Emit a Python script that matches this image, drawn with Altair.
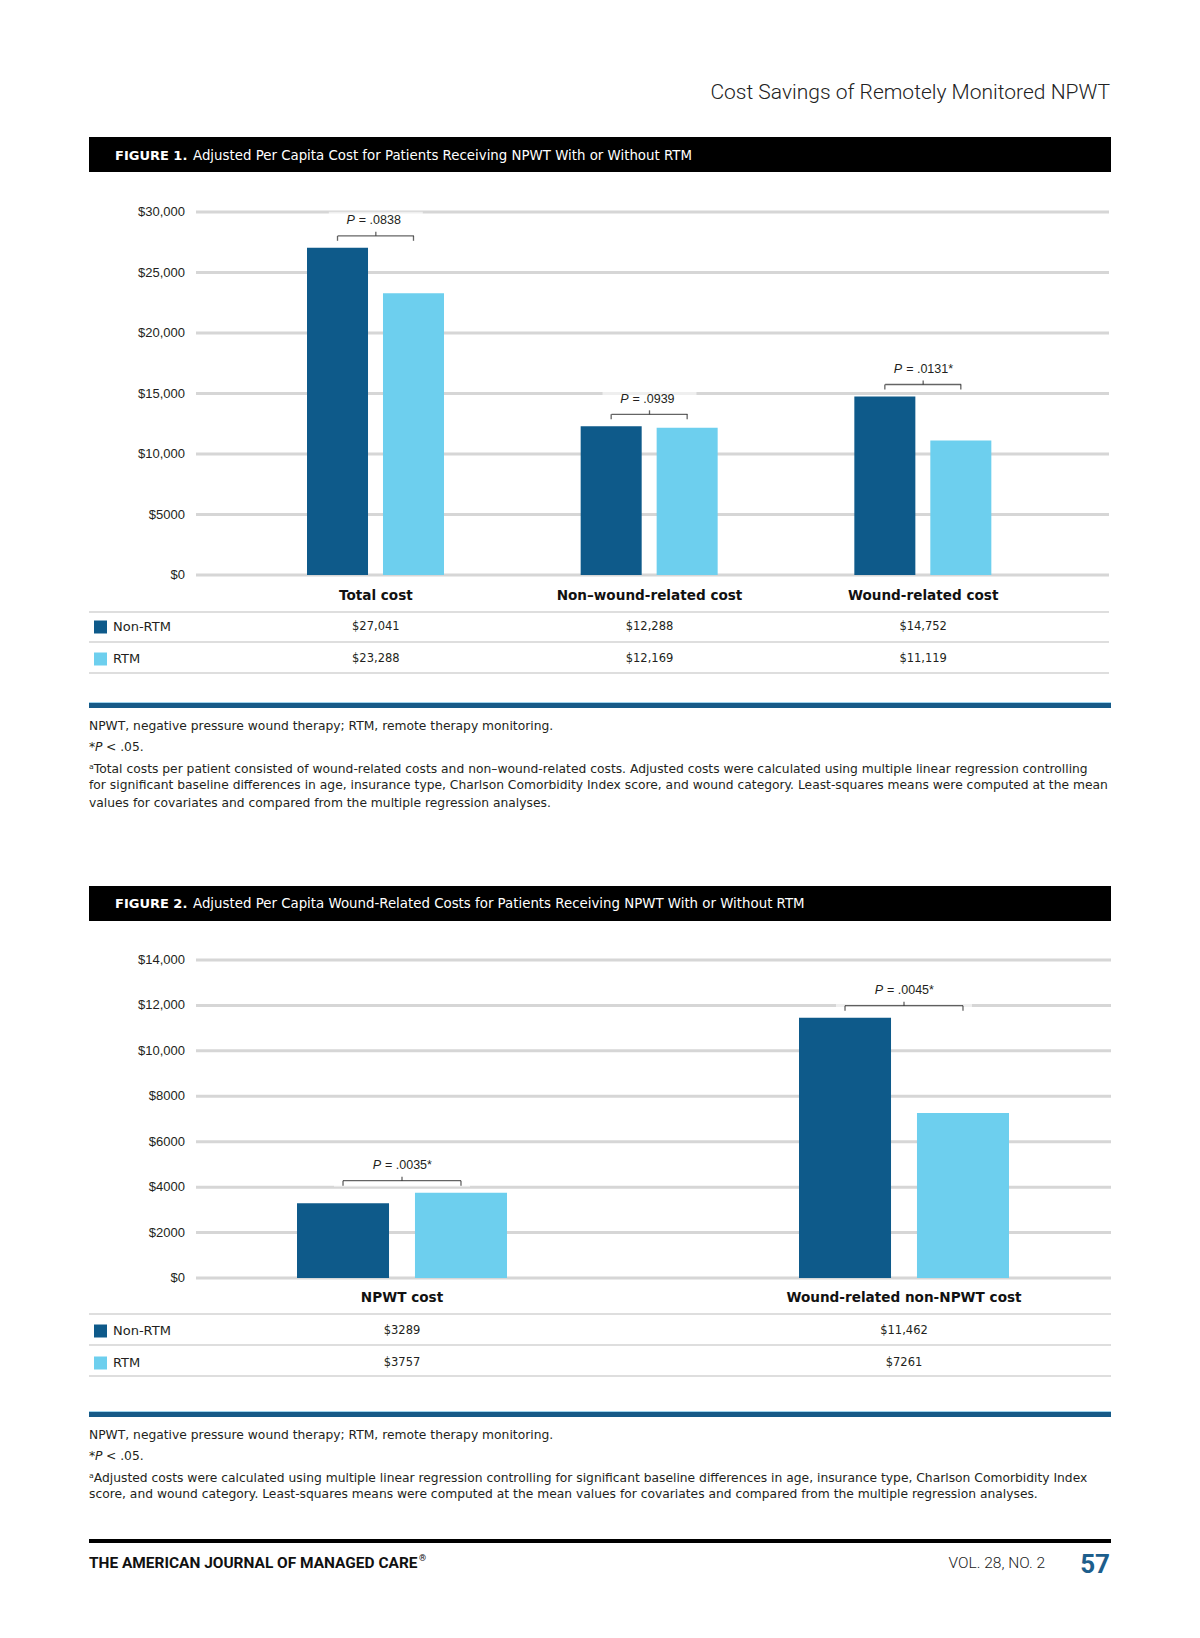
import altair as alt
import pandas as pd

# ---------------- data ----------------
groups = ["Non-RTM", "RTM"]
group_colors = ["#0E5A8A", "#6DCFEE"]

fig1_categories = ["Total cost", "Non\u2013wound-related cost", "Wound-related cost"]
fig1_non_rtm = [27041, 12288, 14752]
fig1_rtm = [23288, 12169, 11119]
fig1_p = [".0838", ".0939", ".0131*"]
fig1_ticks = [0, 5000, 10000, 15000, 20000, 25000, 30000]

fig2_categories = ["NPWT cost", "Wound-related non-NPWT cost"]
fig2_non_rtm = [3289, 11462]
fig2_rtm = [3757, 7261]
fig2_p = [".0035*", ".0045*"]
fig2_ticks = [0, 2000, 4000, 6000, 8000, 10000, 12000, 14000]

running_head = "Cost Savings of Remotely Monitored NPWT"
fig1_label = "FIGURE 1."
fig1_title = "Adjusted Per Capita Cost for Patients Receiving NPWT With or Without RTM"
fig2_label = "FIGURE 2."
fig2_title = "Adjusted Per Capita Wound-Related Costs for Patients Receiving NPWT With or Without RTM"
abbrev_note = "NPWT, negative pressure wound therapy; RTM, remote therapy monitoring."
fig1_notes = [
    "\u1d43Total costs per patient consisted of wound-related costs and non\u2013wound-related costs. Adjusted costs were calculated using multiple linear regression controlling",
    "for significant baseline differences in age, insurance type, Charlson Comorbidity Index score, and wound category. Least-squares means were computed at the mean",
    "values for covariates and compared from the multiple regression analyses.",
]
fig2_notes = [
    "\u1d43Adjusted costs were calculated using multiple linear regression controlling for significant baseline differences in age, insurance type, Charlson Comorbidity Index",
    "score, and wound category. Least-squares means were computed at the mean values for covariates and compared from the multiple regression analyses.",
]
journal = "THE AMERICAN JOURNAL OF MANAGED CARE"
volume = "VOL. 28, NO. 2"
page_no = "57"

# ---------------- helpers ----------------
TXT = "#231f20"
FONT = "DejaVu Sans"
HEADFONT = "Roboto"
AXFONT = "Liberation Sans"
NOTE = 12.3


def money(v):
    return "$" + (f"{v:,}" if v >= 10000 else str(v))


def text_layer(txt, x, y, size=12.5, weight="normal", style="normal",
               align="left", color=TXT, font=FONT):
    return alt.Chart(pd.DataFrame({"t": [txt]})).mark_text(
        align=align, baseline="middle", font=font, fontSize=size,
        fontWeight=weight, fontStyle=style, color=color,
    ).encode(x=alt.value(x), y=alt.value(y), text="t:N")


def rect_layer(x1, x2, y1, y2, color):
    return alt.Chart(pd.DataFrame({"a": [0]})).mark_rect(color=color).encode(
        x=alt.value(x1), x2=alt.value(x2), y=alt.value(y1), y2=alt.value(y2)
    )


def figure(cats, non, rtm, pvals, ticks, ydom, yrange, xrange, pin, orange,
           brace_w, grid_x2, cat_y, row_ys):
    rows = []
    for c, a, b, p in zip(cats, non, rtm, pvals):
        rows.append(dict(category=c, group=groups[0], value=a, label=money(a), ptxt="= " + p))
        rows.append(dict(category=c, group=groups[1], value=b, label=money(b), ptxt="= " + p))
    df = pd.DataFrame(rows)
    tdf = pd.DataFrame({"v": ticks, "lab": [money(t) for t in ticks]})

    yscale = alt.Scale(domain=ydom, range=yrange, nice=False, zero=True)
    xscale = alt.Scale(domain=cats, range=xrange, paddingInner=0, paddingOuter=0)
    oscale = alt.Scale(domain=groups, range=orange, paddingInner=pin, paddingOuter=0)
    X = alt.X("category:N", scale=xscale, sort=cats, axis=None, title=None)
    XO = alt.XOffset("group:N", scale=oscale, sort=groups)
    cscale = alt.Scale(domain=groups, range=group_colors)

    grid = alt.Chart(tdf).mark_rule(strokeWidth=3, color="#d6d6d6").encode(
        y=alt.Y("v:Q", scale=yscale, axis=None),
        x=alt.value(188), x2=alt.value(grid_x2),
    )
    ylabels = alt.Chart(tdf).mark_text(
        align="right", baseline="middle", font=AXFONT, fontSize=13, color=TXT
    ).encode(y=alt.Y("v:Q", scale=yscale, axis=None), x=alt.value(177), text="lab:N")

    bars = alt.Chart(df).mark_bar().encode(
        x=X, xOffset=XO,
        y=alt.Y("value:Q", scale=yscale, axis=None),
        color=alt.Color("group:N", scale=cscale, legend=None),
    )

    agg = alt.Chart(df).transform_joinaggregate(ymax="max(value)", groupby=["category"])
    Ymax = alt.Y("ymax:Q", scale=yscale, axis=None)
    one = agg.transform_filter(alt.datum.group == groups[0])

    box = one.mark_tick(orient="horizontal", size=brace_w + 18, thickness=30,
                        color="white", opacity=0.6, yOffset=-21).encode(x=X, y=Ymax)
    bline = one.mark_tick(orient="horizontal", size=brace_w, thickness=1.3,
                          color="#222", yOffset=-12).encode(x=X, y=Ymax)
    hooks = agg.mark_tick(orient="vertical", size=5, thickness=1.3,
                          color="#222", yOffset=-9.5).encode(x=X, xOffset=XO, y=Ymax)
    peak = one.mark_tick(orient="vertical", size=4, thickness=1.3,
                         color="#222", yOffset=-14).encode(x=X, y=Ymax)
    p_it = one.mark_text(align="right", baseline="middle", font=AXFONT, fontSize=12.5,
                         fontStyle="italic", color=TXT, dx=-21, dy=-27.5).encode(
        x=X, y=Ymax, text=alt.value("P"))
    p_rest = one.mark_text(align="left", baseline="middle", font=AXFONT, fontSize=12.5,
                           color=TXT, dx=-17, dy=-27.5).encode(x=X, y=Ymax, text="ptxt:N")

    catlab = one.mark_text(baseline="middle", font=FONT, fontSize=13.6,
                           fontWeight="bold", color="#111").encode(
        x=X, y=alt.value(cat_y), text="category:N")

    vals = []
    for g, ry in zip(groups, row_ys):
        vals.append(
            alt.Chart(df).transform_filter(alt.datum.group == g).mark_text(
                baseline="middle", font=FONT, fontSize=11.5, color=TXT
            ).encode(x=X, y=alt.value(ry), text="label:N")
        )

    return alt.layer(grid, ylabels, bars, box, bline, hooks, peak, p_it, p_rest, catlab, *vals)


def table_decor(line_ys, row_ys, x2):
    out = []
    for ly in line_ys:
        out.append(rect_layer(81, x2, ly - 0.75, ly + 0.75, "#d3d3d3"))
    for g, col, ry in zip(groups, group_colors, row_ys):
        out.append(rect_layer(86, 99, ry - 6.5, ry + 6.5, col))
        out.append(text_layer(g, 105, ry, size=13))
    return out


def notes(y0, lines, ys):
    out = [
        text_layer(abbrev_note, 81, y0[0], size=NOTE),
        text_layer("*", 81, y0[1], size=NOTE),
        text_layer("P", 87, y0[1], size=NOTE, style="italic"),
        text_layer("< .05.", 98, y0[1], size=NOTE),
    ]
    for t, y in zip(lines, ys):
        out.append(text_layer(t, 81, y, size=NOTE))
    return out


decor = []
# running head
decor.append(text_layer(running_head, 1102, 85, size=21, weight=300, align="right",
                        color="#222", font=HEADFONT))

# Figure 1 title bar
decor.append(rect_layer(81, 1103, 129, 164, "#000000"))
decor.append(text_layer(fig1_label, 107, 148, size=13, weight="bold", color="white"))
decor.append(text_layer(fig1_title, 185, 148, size=13.35, color="white"))
decor += table_decor([604, 634, 665], [619, 651], 1101)
decor.append(rect_layer(81, 1103, 694, 695.2, "#9fd4ee"))
decor.append(rect_layer(81, 1103, 695, 700, "#165a88"))
decor += notes([718, 739], fig1_notes, [761, 777, 795])

# Figure 2 title bar
decor.append(rect_layer(81, 1103, 878, 913, "#000000"))
decor.append(text_layer(fig2_label, 107, 896, size=13, weight="bold", color="white"))
decor.append(text_layer(fig2_title, 185, 896, size=13.35, color="white"))
decor += table_decor([1306, 1337, 1368], [1323, 1355], 1103)
decor.append(rect_layer(81, 1103, 1403, 1404.2, "#9fd4ee"))
decor.append(rect_layer(81, 1103, 1404, 1409, "#165a88"))
decor += notes([1427, 1448], fig2_notes, [1470, 1486])

# footer
decor.append(rect_layer(81, 1103, 1531, 1535, "#000000"))
decor.append(text_layer(journal, 81, 1555, size=15.45, weight="bold", color="#111", font=HEADFONT))
decor.append(text_layer("\u00ae", 411, 1550, size=9, weight="bold", color="#111", font=HEADFONT))
decor.append(text_layer(volume, 1037, 1555, size=15.5, weight=300, align="right",
                        color="#222", font=HEADFONT))
decor.append(text_layer(page_no, 1102, 1557, size=26, weight="bold", align="right",
                        color="#1d5e8c", font=HEADFONT))

fig1 = figure(fig1_categories, fig1_non_rtm, fig1_rtm, fig1_p, fig1_ticks,
              [0, 30000], [567, 204], [231, 1052], 0.197, [68, 205], 76, 1101, 588, [619, 651])
fig2 = figure(fig2_categories, fig2_non_rtm, fig2_rtm, fig2_p, fig2_ticks,
              [0, 14000], [1270, 952], [143, 1147], 0.22, [146, 356], 118, 1103, 1290, [1323, 1355])

chart = alt.layer(*decor, fig1, fig2).resolve_scale(
    x="independent", y="independent", xOffset="independent", color="shared"
).properties(
    width=1184, height=1615, padding=0, background="white",
    autosize=alt.AutoSizeParams(type="none"),
).configure_view(strokeWidth=0)

chart.save("out.html", embed_options={"renderer": "svg", "actions": False})
